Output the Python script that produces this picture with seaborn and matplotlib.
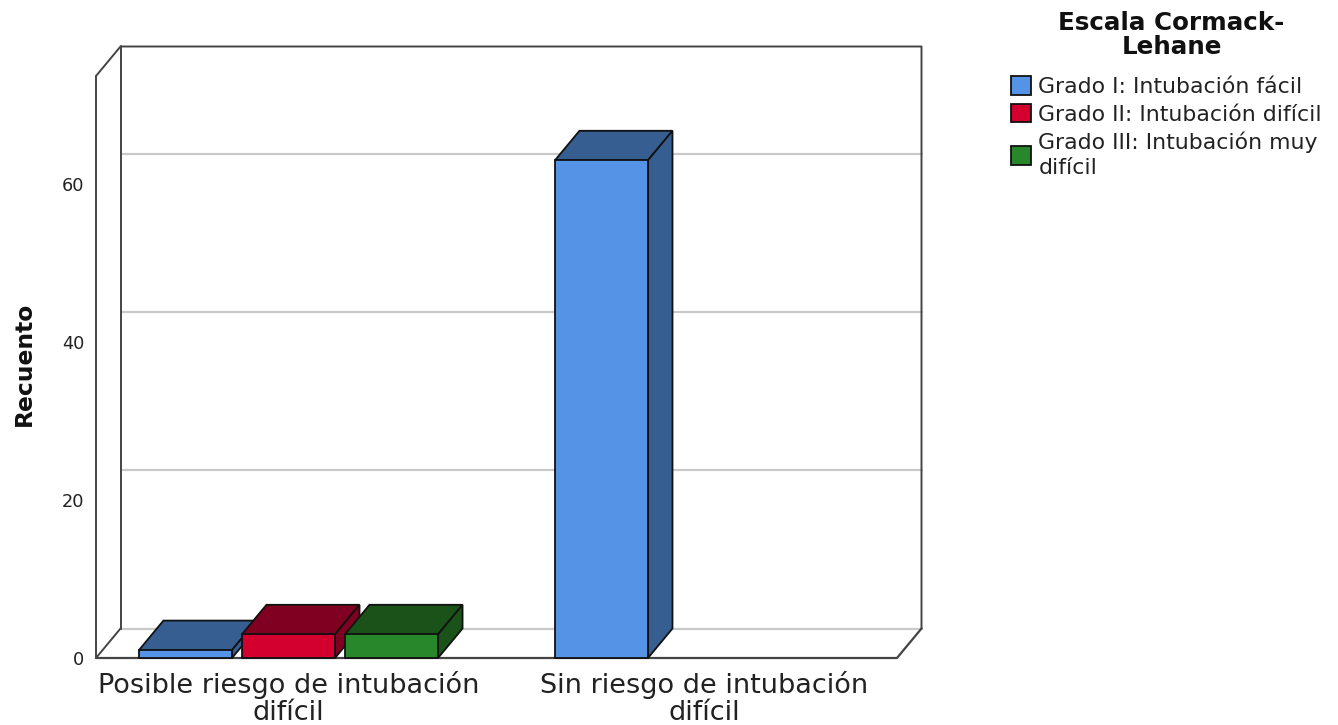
import pandas as pd
import seaborn as sns
import matplotlib.pyplot as plt
from matplotlib.patches import Patch, Polygon

# data
categorias = ["Posible riesgo de intubación\ndifícil", "Sin riesgo de intubación\ndifícil"]
grados = ["Grado I: Intubación fácil", "Grado II: Intubación difícil", "Grado III: Intubación muy\ndifícil"]
grado_1 = [1, 63]
grado_2 = [3, 0]
grado_3 = [3, 0]
y_ticks = [0, 20, 40, 60]

colores = ["#5593E6", "#D3002F", "#28872A"]
oscuros = ["#365E91", "#7F0020", "#1A5219"]

df = pd.DataFrame({
    "riesgo": categorias * 3,
    "grado": [grados[0]] * 2 + [grados[1]] * 2 + [grados[2]] * 2,
    "recuento": grado_1 + grado_2 + grado_3,
})

W, H = 1338, 725
sns.set_style("white")
fig = plt.figure(figsize=(W / 100, H / 100), dpi=100)
ax = fig.add_axes([96 / W, 1 - 658 / H, 801 / W, 582 / H])

sns.barplot(data=df, x="riesgo", y="recuento", hue="grado", order=categorias, hue_order=grados,
            palette=colores, width=0.743, gap=0.097, edgecolor="#111111", linewidth=1.3,
            saturation=1, legend=False, ax=ax)

px_x = 416.0
px_y = 7.9
xlim = (-192.5 / px_x, 1 + 192.5 / px_x)
ylim = (0, 582 / px_y)
dx = 24.5 / px_x
dy = 29.5 / px_y

# caja 3d
oscuro = "#444444"
gris = "#c9c9c9"
for v in y_ticks:
    ax.plot([xlim[0] + dx, xlim[1] + dx], [v + dy, v + dy], color=gris, lw=1.6, zorder=1, clip_on=False)
ax.plot([xlim[0], xlim[0] + dx, xlim[1] + dx, xlim[1] + dx],
        [ylim[1], ylim[1] + dy, ylim[1] + dy, dy], color=oscuro, lw=1.4, zorder=1, clip_on=False)
ax.plot([xlim[0] + dx, xlim[0] + dx], [ylim[1] + dy, dy], color=oscuro, lw=1.4, zorder=1, clip_on=False)
ax.plot([xlim[0], xlim[0], xlim[0] + dx], [ylim[1], 0, dy], color=oscuro, lw=1.4, zorder=1, clip_on=False)
ax.plot([xlim[0], xlim[1], xlim[1] + dx], [0, 0, dy], color=oscuro, lw=1.6, zorder=2, clip_on=False)

# caras laterales y superiores de las barras
barras = [b for b in ax.patches if b.get_height() > 0]
barras.sort(key=lambda b: b.get_x())
rgb = [sns.utils.to_rgb(c) for c in colores]
for i, b in enumerate(barras):
    x0, x1 = b.get_x(), b.get_x() + b.get_width()
    h = b.get_height()
    oscuro_i = oscuros[rgb.index(tuple(b.get_facecolor()[:3]))]
    arriba = Polygon([(x0, h), (x0 + dx, h + dy), (x1 + dx, h + dy), (x1, h)], closed=True,
                     facecolor=oscuro_i, edgecolor="#111111", lw=1.3, zorder=3 + i, clip_on=False)
    lado = Polygon([(x1, 0), (x1 + dx, dy), (x1 + dx, h + dy), (x1, h)], closed=True,
                   facecolor=oscuro_i, edgecolor="#111111", lw=1.3, zorder=3 + i, clip_on=False)
    ax.add_patch(arriba)
    ax.add_patch(lado)
    b.set_zorder(3.5 + i)
    b.set_clip_on(False)

ax.set_xlim(xlim)
ax.set_ylim(ylim)
sns.despine(ax=ax, left=True, bottom=True, right=True, top=True)

ax.set_yticks(y_ticks)
ax.tick_params(axis="y", length=0, pad=8.5, labelsize=12.8, labelcolor="#222222")
ax.tick_params(axis="x", length=0, pad=9.5)
ax.set_xticks([0, 1])
ax.set_xticklabels(categorias, fontsize=19.5, linespacing=1.05, color="#222222")
ax.set_xlabel("")
ax.set_ylabel("Recuento", fontsize=16.8, fontweight="bold", color="#111111")
ax.yaxis.set_label_coords(-60 / 801, 0.506)

handles = [Patch(facecolor=c, edgecolor="#111111", lw=1.3) for c in colores]
leg = ax.legend(handles, grados, title="Escala Cormack-\nLehane", loc="upper left",
                bbox_to_anchor=(1011 / W, 1 - 11 / H), bbox_transform=fig.transFigure, frameon=False,
                fontsize=15.8, handlelength=0.92, handleheight=0.92, handletextpad=0.33,
                labelspacing=0.32, borderpad=0, borderaxespad=0)
leg.get_title().set_fontsize(17.7)
leg.get_title().set_fontweight("bold")
leg.get_title().set_color("#111111")
leg.get_title().set_linespacing(1.02)
leg.get_title().set_multialignment("center")
leg.get_title().set_x(5)
leg._legend_box.sep = 12
for t in leg.get_texts():
    t.set_linespacing(1.3)
    t.set_color("#222222")

plt.savefig("out.png", dpi=100)
